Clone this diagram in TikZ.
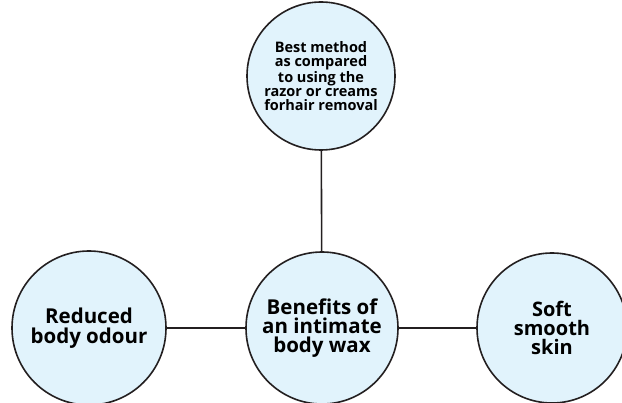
\documentclass[tikz,border=0pt]{standalone}
\usepackage{fontspec}
\setmainfont{Open Sans}
\definecolor{circfill}{HTML}{E1F3FC}
\definecolor{ink}{HTML}{231F20}
\tikzset{
  bubble/.style={circle, draw=ink, line width=1.6pt, fill=circfill, inner sep=0pt, align=center, font=\bfseries},
  link/.style={draw=ink, line width=1.6pt}
}
\begin{document}
\begin{tikzpicture}[x=1pt,y=-1pt]
\useasboundingbox (0,0) rectangle (622,403);
\node[bubble, minimum size=148pt, font=\bfseries\fontsize{14.5}{14}\selectfont] (top) at (321,76) {Best method\\as compared\\to using the\\razor or creams\\forhair removal};
\node[bubble, minimum size=152pt, font=\bfseries\fontsize{20.5}{19}\selectfont] (mid) at (322,328) {Benefits of\\an intimate\\body wax};
\node[bubble, minimum size=154pt, font=\bfseries\fontsize{20.5}{19.5}\selectfont] (left) at (89,328) {Reduced\\body odour};
\node[bubble, minimum size=150pt, font=\bfseries\fontsize{20}{19}\selectfont] (right) at (552,328) {Soft\\smooth\\skin};
\draw[link] (top) -- (mid);
\draw[link] (left) -- (mid);
\draw[link] (mid) -- (right);
\end{tikzpicture}
\end{document}
